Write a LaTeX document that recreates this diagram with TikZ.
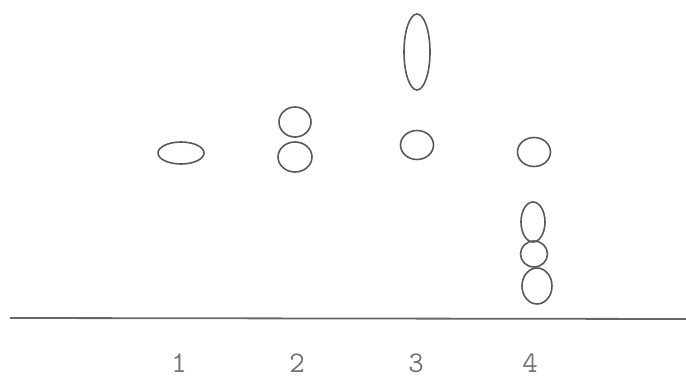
\documentclass[tikz,border=0pt]{standalone}
\usetikzlibrary{shapes.geometric}
\begin{document}
\begin{tikzpicture}[x=1pt,y=-1pt,
  spot/.style={draw=black!65,line width=1.6pt,ellipse,inner sep=0pt},
  lab/.style={text=black!55,font=\ttfamily\fontsize{30}{34}\selectfont,inner sep=0pt}]
\useasboundingbox (0,0) rectangle (686,379);
% lane 1
\node[spot,minimum width=46,minimum height=22] (a1) at (181,153) {};
% lane 2
\node[spot,minimum width=32,minimum height=30] (b1) at (295,122) {};
\node[spot,minimum width=34,minimum height=30] (b2) at (295,157) {};
% lane 3
\node[spot,minimum width=26,minimum height=76] (c1) at (417,52) {};
\node[spot,minimum width=33,minimum height=29] (c2) at (417,145) {};
% lane 4
\node[spot,minimum width=33,minimum height=29] (d1) at (534,152) {};
\node[spot,minimum width=24,minimum height=40] (d2) at (533,222) {};
\node[spot,minimum width=27,minimum height=26] (d3) at (534,254) {};
\node[spot,minimum width=30,minimum height=36] (d4) at (537,286) {};
% baseline
\coordinate (l0) at (10,318);
\coordinate (l1) at (686,319);
\draw[black!60,line width=1.8pt] (l0) -- (l1);
% labels
\node[lab] (n1) at (179,363) {1};
\node[lab] (n2) at (297,363) {2};
\node[lab] (n3) at (416,363) {3};
\node[lab] (n4) at (530,363) {4};
\end{tikzpicture}
\end{document}
